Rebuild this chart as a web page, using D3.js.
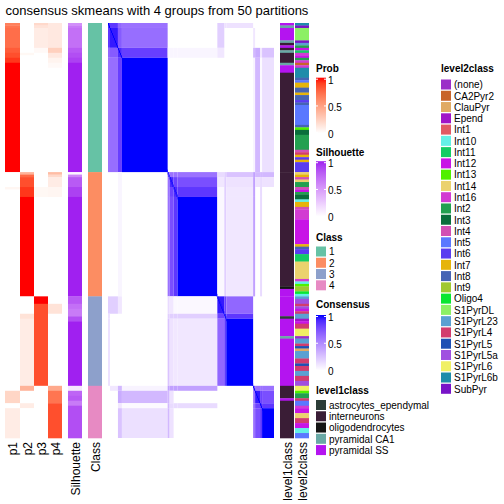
<!DOCTYPE html>
<html><head><meta charset="utf-8">
<script src="https://cdn.jsdelivr.net/npm/d3@7"></script>
<style>
body{margin:0;background:#fff}
text{font-family:"Liberation Sans",Arial,Helvetica,sans-serif;fill:#000}
</style></head>
<body><svg id="c" width="504" height="504"></svg>
<script>
// ---------------- DATA ----------------
const title = "consensus skmeans with 4 groups from 50 partitions";
const classNames = ["1","2","3","4"];
const classSizes = [60,50,36,21];
const classColors = ["#66c2a5","#fc8d62","#8da0cb","#e78ac3"];

// membership probabilities, as runs [rowCount, value]
const p1Runs = [[1,0.65],[1,0.7],[8,0.73],[2,0.8],[2,0.85],[2,0.92],[44,1],
  [6,0],[1,0.05],[43,0],
  [36,0],
  [2,0],[5,0.22],[2,0],[12,0.1]];
const p2Runs = [[12,0],[1,0.04],[47,0],
  [1,0.4],[1,0.75],[4,0.85],[4,0.92],[40,1],
  [7,0],[2,0.15],[27,0.1],
  [2,0.4],[5,0],[2,0.1],[12,0]];
const p3Runs = [[1,0.2],[1,0.15],[8,0.1],[2,0.03],[48,0],
  [6,0],[4,0.04],[40,0],
  [3,1],[33,0.85],
  [21,0]];
const p4Runs = [[10,0.12],[2,0.25],[2,0.12],[2,0.06],[2,0.03],[42,0],
  [1,0.35],[1,0.2],[4,0.1],[4,0.05],[40,0],
  [3,0],[4,0.15],[29,0],
  [2,0.45],[5,0.7],[14,0.85]];
const silRuns = [[1,0.55],[1,0.65],[8,0.7],[2,0.8],[2,0.85],[2,0.9],[44,1],
  [1,0.05],[1,0.6],[4,0.8],[4,0.9],[40,1],
  [3,0.8],[2,0.7],[3,0.65],[2,0.85],[26,1],
  [2,0.12],[2,0.75],[2,0.8],[2,0.65],[13,0.85]];

// consensus sub-groups (in sample order) and their pairwise consensus
const subGroups = [["1a0",2],["1a",8],["1b",4],["1c",46],
  ["2a",2],["2b",4],["2c",4],["2d",40],
  ["3a",7],["3b",2],["3c",27],
  ["4a",2],["4b",5],["4c",2],["4d",12]];
const consensusPairs = [
  ["1a0","1a0",0.9],["1a0","1a",0.85],["1a0","1b",0.65],["1a0","1c",0.6],
  ["1a","1a",0.95],["1a","1b",0.7],["1a","1c",0.62],
  ["1b","1b",0.9],["1b","1c",0.82],["1c","1c",1],
  ["1b","2a",0.04],["1b","2b",0.04],["1b","2c",0.04],["1b","2d",0.04],
  ["1a0","3a",0.2],["1a0","3b",0.12],["1a0","3c",0.12],["1a","3a",0.2],["1b","3a",0.1],
  ["1a","4a",0.1],["1b","4a",0.3],["1b","4b",0.35],["1b","4c",0.1],["1b","4d",0.25],
  ["1c","4a",0.05],["1c","4b",0.3],["1c","4c",0.02],["1c","4d",0.13],
  ["2a","2a",0.7],["2a","2b",0.6],["2a","2c",0.6],["2a","2d",0.6],
  ["2b","2b",0.9],["2b","2c",0.8],["2b","2d",0.75],
  ["2c","2c",0.9],["2c","2d",0.85],["2d","2d",1],
  ["2a","3a",0.15],["2a","3b",0.2],["2a","3c",0.25],
  ["2b","3a",0.1],["2b","3b",0.2],["2b","3c",0.12],
  ["2c","3a",0.03],["2c","3b",0.2],["2c","3c",0.1],
  ["2d","3a",0.03],["2d","3b",0.2],["2d","3c",0.1],
  ["2a","4a",0.4],["2b","4a",0.4],["2c","4a",0.4],["2d","4a",0.4],
  ["2a","4b",0.3],["2a","4c",0.3],["2a","4d",0.3],
  ["2b","4b",0.12],["2b","4d",0.12],
  ["2b","4c",0.15],["2c","4c",0.15],["2d","4c",0.15],
  ["3a","3a",0.95],["3a","3b",0.8],["3a","3c",0.65],
  ["3b","3b",0.9],["3b","3c",0.85],["3c","3c",1],
  ["4a","4a",0.7],["4a","4b",0.6],["4a","4c",0.6],["4a","4d",0.6],
  ["4b","4b",0.95],["4b","4c",0.8],["4b","4d",0.75],
  ["4c","4c",0.9],["4c","4d",0.85],["4d","4d",1]];

const level1Names = ["astrocytes_ependymal","interneurons","oligodendrocytes","pyramidal CA1","pyramidal SS"];
const level1Colors = ["#2c3d37","#3a1d36","#151515","#6aa9a6","#b414f0"];
const level1Runs = [[1,"pyramidal SS"],[1,"pyramidal CA1"],[5,"pyramidal SS"],[1,"pyramidal CA1"],
  [1,"interneurons"],[1,"pyramidal SS"],[1,"interneurons"],[1,"pyramidal CA1"],[4,"interneurons"],
  [1,"pyramidal CA1"],[3,"pyramidal SS"],[40,"interneurons"],
  [46,"interneurons"],[1,"oligodendrocytes"],[3,"pyramidal SS"],
  [8,"pyramidal SS"],[1,"astrocytes_ependymal"],[7,"pyramidal SS"],[1,"pyramidal CA1"],[19,"pyramidal SS"],
  [5,"interneurons"],[1,"pyramidal SS"],[15,"interneurons"]];

const level2Names = ["(none)","CA2Pyr2","ClauPyr","Epend","Int1","Int10","Int11","Int12","Int13","Int14",
  "Int16","Int2","Int3","Int4","Int5","Int6","Int7","Int8","Int9","Oligo4","S1PyrDL","S1PyrL23",
  "S1PyrL4","S1PyrL5","S1PyrL5a","S1PyrL6","S1PyrL6b","SubPyr"];
const level2Colors = ["#9b30c8","#c8642a","#e0aa64","#a014c8","#e05a64","#64f0e6","#14cc64","#c814e6","#50f000","#ebd26e",
  "#d23cd2","#23a050","#0a6e3c","#d250b4","#5a78ff","#5a3cf0","#e6b40a","#4664b4","#a0c832","#0ae632","#8cf064","#5aa0d2",
  "#d23c6e","#1e50b4","#a050e0","#f0f064","#1e8caa","#7814c8"];
const level2Runs = [[1,"S1PyrL6b"],[1,"SubPyr"],[5,"S1PyrDL"],[1,"SubPyr"],[1,"S1PyrL23"],[1,"Int2"],[1,"Int12"],
  [1,"Int11"],[1,"Int16"],[1,"Int12"],[1,"Int2"],[1,"Int16"],[1,"CA2Pyr2"],[1,"Int16"],[4,"S1PyrL6b"],[1,"Int8"],
  [1,"Int5"],[2,"Int7"],[2,"Int8"],[1,"Int7"],[2,"Int8"],[1,"Int6"],[1,"Int8"],[8,"Int5"],[1,"Int8"],[1,"Int13"],
  [2,"Int3"],[6,"Int2"],[1,"Int4"],[1,"S1PyrL4"],[1,"Int7"],[1,"Int6"],[1,"Int7"],[4,"Int6"],
  [1,"Int14"],[1,"Int7"],[1,"Int4"],[1,"Int14"],[2,"Int2"],[1,"Int4"],[1,"Int12"],[1,"Int2"],[2,"Int3"],[1,"Int10"],
  [2,"Int7"],[1,"Int4"],[4,"Int16"],[10,"Int12"],[1,"Int7"],[1,"Int8"],[2,"Int6"],[3,"Int11"],[7,"Int14"],[1,"Int16"],
  [1,"Int10"],[1,"Int13"],[2,"Int9"],[1,"Oligo4"],[1,"Int10"],
  [1,"S1PyrL23"],[2,"S1PyrL5a"],[1,"S1PyrL4"],[1,"S1PyrL5a"],[1,"Int12"],[1,"S1PyrL4"],[2,"S1PyrL23"],[1,"Epend"],
  [1,"Int12"],[2,"S1PyrL4"],[3,"S1PyrL6"],[1,"(none)"],[2,"S1PyrL23"],[1,"S1PyrL4"],[1,"S1PyrL5"],[1,"ClauPyr"],
  [3,"S1PyrL23"],[2,"S1PyrL4"],[1,"S1PyrL5"],[2,"S1PyrL4"],[2,"S1PyrL23"],[2,"S1PyrL4"],[2,"S1PyrL5a"],
  [2,"S1PyrL6"],[1,"Int13"],[2,"Int2"],[1,"S1PyrL4"],[2,"Int5"],[1,"Int16"],[2,"Int12"],[2,"Int14"],[2,"S1PyrL4"],
  [2,"Int12"],[2,"Int10"],[2,"Int5"]];

// ---------------- DRAW ----------------
const N = d3.sum(classSizes);
const svg = d3.select("#c");
const TOP = 23, BOT = 438;
const y = d3.scaleLinear().domain([0, N]).range([TOP, BOT]);
const xc = d3.scaleLinear().domain([0, N]).range([108, 274]);

const probCol = d3.scaleLinear().domain([0,1]).range(["#ffffff","#ff0000"]).interpolate(d3.interpolateLab);
const silCol = d3.scaleLinear().domain([0,1]).range(["#ffffff","#a020f0"]).interpolate(d3.interpolateLab);
const conCol = d3.scaleLinear().domain([0,1]).range(["#ffffff","#0000ff"]).interpolate(d3.interpolateLab);
const lv1Col = d3.scaleOrdinal().domain(level1Names).range(level1Colors);
const lv2Col = d3.scaleOrdinal().domain(level2Names).range(level2Colors);
const clsCol = d3.scaleOrdinal().domain(classNames).range(classColors);

function withStarts(runs){ let s=0; return runs.map(r=>{const o={start:s,n:r[0],v:r[1]}; s+=r[0]; return o;}); }

function drawColumn(runs, x0, w, colorFn){
  svg.append("g").selectAll("rect").data(withStarts(runs)).join("rect")
    .attr("x", x0).attr("width", w)
    .attr("y", d=>y(d.start)).attr("height", d=>y(d.start+d.n)-y(d.start)+0.3)
    .attr("fill", d=>colorFn(d.v));
}
drawColumn(p1Runs, 5, 15, probCol);
drawColumn(p2Runs, 20, 14, probCol);
drawColumn(p3Runs, 34, 14, probCol);
drawColumn(p4Runs, 48, 14, probCol);
drawColumn(silRuns, 68, 14, silCol);
drawColumn(classSizes.map((n,i)=>[n,classNames[i]]), 88, 14, clsCol);
drawColumn(level1Runs, 280, 14, lv1Col);
drawColumn(level2Runs, 295, 14, lv2Col);

// consensus heatmap
const gStart = {}; { let s=0; subGroups.forEach(g=>{gStart[g[0]]=[s,g[1]]; s+=g[1];}); }
const blocks = [];
consensusPairs.forEach(([a,b,v])=>{
  blocks.push({r:gStart[a], c:gStart[b], v});
  if(a!==b) blocks.push({r:gStart[b], c:gStart[a], v});
});
const gc = svg.append("g");
gc.selectAll("rect.b").data(blocks).join("rect").attr("class","b")
  .attr("x", d=>xc(d.c[0])).attr("width", d=>xc(d.c[0]+d.c[1])-xc(d.c[0]))
  .attr("y", d=>y(d.r[0])).attr("height", d=>y(d.r[0]+d.r[1])-y(d.r[0]))
  .attr("fill", d=>conCol(d.v));
gc.selectAll("rect.d").data(d3.range(N)).join("rect").attr("class","d")
  .attr("x", i=>xc(i)).attr("width", i=>xc(i+1)-xc(i))
  .attr("y", i=>y(i)).attr("height", i=>y(i+1)-y(i))
  .attr("fill", conCol(1));

// title
svg.append("text").attr("x",157).attr("y",15).attr("text-anchor","middle")
  .style("font-size","13px").text(title);

// bottom labels
const bottomLabels = [["p1",12.5],["p2",27],["p3",41],["p4",55],["Silhouette",75],["Class",95],["level1class",287],["level2class",302]];
svg.append("g").selectAll("text").data(bottomLabels).join("text")
  .attr("transform", d=>`translate(${d[1]+4.5},442) rotate(-90)`)
  .attr("text-anchor","end").style("font-size","12px").text(d=>d[0]);

// legends
const defs = svg.append("defs");
function gradLegend(id, titleTxt, ty, barTop, colorScale){
  const lx = 316, lw = 10, barH = 55.5;
  svg.append("text").attr("x",lx).attr("y",ty).style("font-size","10px").style("font-weight","bold").text(titleTxt);
  const grad = defs.append("linearGradient").attr("id",id).attr("x1",0).attr("y1",1).attr("x2",0).attr("y2",0);
  d3.range(0,1.0001,0.1).forEach(t=>grad.append("stop").attr("offset",t).attr("stop-color",colorScale(t)));
  svg.append("rect").attr("x",lx).attr("y",barTop).attr("width",lw).attr("height",barH).attr("fill",`url(#${id})`);
  const tick = d3.scaleLinear().domain([0,1]).range([barTop+barH-0.5, barTop+1.5]);
  const lab = d3.scaleLinear().domain([0,1]).range([barTop+60, barTop+5.8]);
  [0,0.5,1].forEach(v=>{
    svg.append("line").attr("x1",lx).attr("x2",lx+2).attr("y1",tick(v)).attr("y2",tick(v)).attr("stroke","#fff");
    svg.append("line").attr("x1",lx+lw-2).attr("x2",lx+lw).attr("y1",tick(v)).attr("y2",tick(v)).attr("stroke","#fff");
    svg.append("text").attr("x",lx+12).attr("y",lab(v)).style("font-size","10px").text(v===0.5?"0.5":String(v));
  });
}
gradLegend("gp","Prob",72.3,77.7,probCol);
gradLegend("gs","Silhouette",155.5,161.2,silCol);
gradLegend("gc","Consensus",308,315,conCol);

function discLegend(titleTxt, x, ty, firstY, names, scale){
  svg.append("text").attr("x",x).attr("y",ty).style("font-size","10px").style("font-weight","bold").text(titleTxt);
  const g = svg.append("g").selectAll("g").data(names).join("g")
    .attr("transform",(d,i)=>`translate(${x},${firstY + i*11.27})`);
  g.append("rect").attr("x",0).attr("y",-5).attr("width",10).attr("height",10).attr("fill",d=>scale(d));
  g.append("text").attr("x",13).attr("y",3.8).style("font-size","10px").text(d=>d);
}
discLegend("Class",316,241,251.5,classNames,clsCol);
discLegend("level1class",316,394,405,level1Names,lv1Col);
discLegend("level2class",441,72,84.5,level2Names,lv2Col);
</script></body></html>
